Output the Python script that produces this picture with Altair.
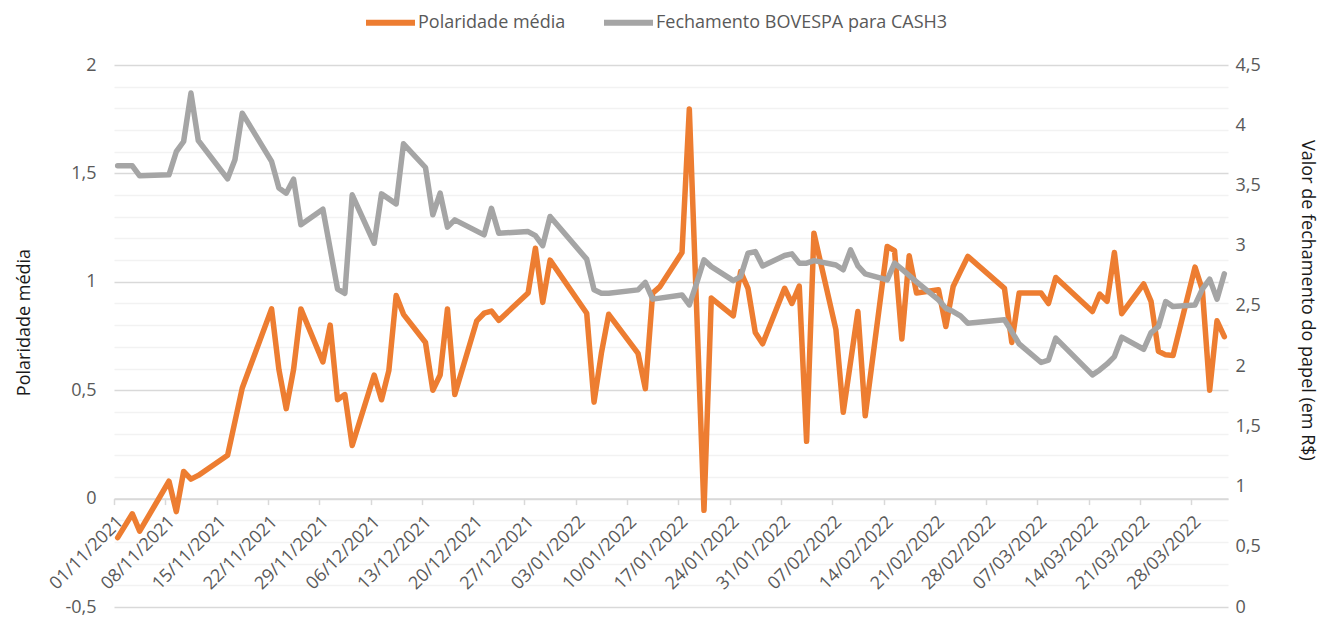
import altair as alt
import pandas as pd

SER_POL = "Polaridade média"
SER_STK = "Fechamento BOVESPA para CASH3"
ORANGE = "#ED7D31"
GRAY = "#A5A5A5"

pol_dates = [
    "2021-11-01", "2021-11-03", "2021-11-04", "2021-11-08", "2021-11-09", "2021-11-10",
    "2021-11-11", "2021-11-12", "2021-11-16", "2021-11-18", "2021-11-22", "2021-11-23",
    "2021-11-24", "2021-11-25", "2021-11-26", "2021-11-29", "2021-11-30", "2021-12-01",
    "2021-12-02", "2021-12-03", "2021-12-06", "2021-12-07", "2021-12-08", "2021-12-09",
    "2021-12-10", "2021-12-13", "2021-12-14", "2021-12-15", "2021-12-16", "2021-12-17",
    "2021-12-20", "2021-12-21", "2021-12-22", "2021-12-23", "2021-12-27", "2021-12-28",
    "2021-12-29", "2021-12-30", "2022-01-04", "2022-01-05", "2022-01-06", "2022-01-07",
    "2022-01-11", "2022-01-12", "2022-01-13", "2022-01-14", "2022-01-17", "2022-01-18",
    "2022-01-20", "2022-01-21", "2022-01-24", "2022-01-25", "2022-01-26", "2022-01-27",
    "2022-01-28", "2022-01-31", "2022-02-01", "2022-02-02", "2022-02-03", "2022-02-04",
    "2022-02-07", "2022-02-08", "2022-02-10", "2022-02-11", "2022-02-14", "2022-02-15",
    "2022-02-16", "2022-02-17", "2022-02-18", "2022-02-21", "2022-02-22", "2022-02-23",
    "2022-02-24", "2022-02-25", "2022-03-02", "2022-03-03", "2022-03-04", "2022-03-07",
    "2022-03-08", "2022-03-09", "2022-03-14", "2022-03-15", "2022-03-16", "2022-03-17",
    "2022-03-18", "2022-03-21", "2022-03-22", "2022-03-23", "2022-03-24", "2022-03-25",
    "2022-03-28", "2022-03-29", "2022-03-30", "2022-03-31", "2022-04-01",
]
pol_values = [
    -0.18, -0.07, -0.15, 0.08, -0.06, 0.125,
    0.09, 0.107, 0.20, 0.51, 0.875, 0.595,
    0.415, 0.595, 0.875, 0.63, 0.80, 0.456,
    0.48, 0.245, 0.57, 0.456, 0.59, 0.937,
    0.85, 0.72, 0.50, 0.57, 0.875, 0.48,
    0.82, 0.855, 0.865, 0.822, 0.948, 1.155,
    0.905, 1.10, 0.855, 0.445, 0.67, 0.85,
    0.67, 0.507, 0.948, 0.978, 1.135, 1.797,
    -0.054, 0.925, 0.843, 1.047, 0.97, 0.766,
    0.714, 0.97, 0.90, 0.98, 0.264, 1.224,
    0.78, 0.398, 0.863, 0.382, 1.163, 1.144,
    0.736, 1.12, 0.948, 0.963, 0.794, 0.978,
    1.048, 1.117, 0.97, 0.72, 0.948, 0.948,
    0.90, 1.02, 0.863, 0.943, 0.91, 1.135,
    0.853, 0.99, 0.91, 0.68, 0.663, 0.66,
    1.068, 0.963, 0.50, 0.82, 0.747,
]

stock_dates = [
    "2021-11-01", "2021-11-03", "2021-11-04", "2021-11-08", "2021-11-09", "2021-11-10",
    "2021-11-11", "2021-11-12", "2021-11-16", "2021-11-17", "2021-11-18", "2021-11-22",
    "2021-11-23", "2021-11-24", "2021-11-25", "2021-11-26", "2021-11-29", "2021-12-01",
    "2021-12-02", "2021-12-03", "2021-12-06", "2021-12-07", "2021-12-09", "2021-12-10",
    "2021-12-13", "2021-12-14", "2021-12-15", "2021-12-16", "2021-12-17", "2021-12-21",
    "2021-12-22", "2021-12-23", "2021-12-27", "2021-12-28", "2021-12-29", "2021-12-30",
    "2022-01-04", "2022-01-05", "2022-01-06", "2022-01-07", "2022-01-11", "2022-01-12",
    "2022-01-13", "2022-01-17", "2022-01-18", "2022-01-19", "2022-01-20", "2022-01-21",
    "2022-01-24", "2022-01-25", "2022-01-26", "2022-01-27", "2022-01-28", "2022-01-31",
    "2022-02-01", "2022-02-02", "2022-02-03", "2022-02-04", "2022-02-07", "2022-02-08",
    "2022-02-09", "2022-02-10", "2022-02-11", "2022-02-14", "2022-02-15", "2022-02-16",
    "2022-02-17", "2022-02-18", "2022-02-21", "2022-02-22", "2022-02-23", "2022-02-24",
    "2022-02-25", "2022-03-02", "2022-03-03", "2022-03-04", "2022-03-07", "2022-03-08",
    "2022-03-09", "2022-03-14", "2022-03-15", "2022-03-16", "2022-03-17", "2022-03-18",
    "2022-03-21", "2022-03-22", "2022-03-23", "2022-03-24", "2022-03-25", "2022-03-28",
    "2022-03-29", "2022-03-30", "2022-03-31", "2022-04-01",
]
stock_values = [
    3.663, 3.663, 3.58, 3.588, 3.78, 3.865,
    4.267, 3.873, 3.555, 3.713, 4.10, 3.70,
    3.478, 3.436, 3.552, 3.173, 3.303, 2.64,
    2.605, 3.422, 3.02, 3.43, 3.347, 3.846,
    3.649, 3.256, 3.436, 3.154, 3.214, 3.09,
    3.31, 3.103, 3.117, 3.084, 3.0, 3.242,
    2.888, 2.633, 2.605, 2.605, 2.633, 2.694,
    2.556, 2.591, 2.508, 2.689, 2.882, 2.826,
    2.71, 2.743, 2.937, 2.951, 2.832, 2.918,
    2.932, 2.855, 2.855, 2.876, 2.84, 2.80,
    2.965, 2.832, 2.766, 2.716, 2.855, 2.805,
    2.752, 2.70, 2.55, 2.48, 2.453, 2.417,
    2.356, 2.384, 2.287, 2.184, 2.03, 2.05,
    2.232, 1.927, 1.968, 2.018, 2.079, 2.24,
    2.14, 2.278, 2.328, 2.536, 2.494, 2.508,
    2.639, 2.722, 2.556, 2.766,
]

x_tick_labels = [
    "01/11/2021", "08/11/2021", "15/11/2021", "22/11/2021", "29/11/2021", "06/12/2021",
    "13/12/2021", "20/12/2021", "27/12/2021", "03/01/2022", "10/01/2022", "17/01/2022",
    "24/01/2022", "31/01/2022", "07/02/2022", "14/02/2022", "21/02/2022", "28/02/2022",
    "07/03/2022", "14/03/2022", "21/03/2022", "28/03/2022",
]
x_start = "01/11/2021"
x_end = "02/04/2022"
left_ticks = [-0.5, -0.4, -0.3, -0.2, -0.1, 0.0, 0.1, 0.2, 0.3, 0.4, 0.5, 0.6, 0.7,
              0.8, 0.9, 1.0, 1.1, 1.2, 1.3, 1.4, 1.5, 1.6, 1.7, 1.8, 1.9, 2.0]
right_ticks = [0, 0.5, 1, 1.5, 2, 2.5, 3, 3.5, 4, 4.5]


def to_dt(s):
    d, m, y = s.split("/")
    return alt.DateTime(year=int(y), month=int(m), date=int(d))


# Excel date axis: each day's point sits in the middle of its day slot
pol_df = pd.DataFrame({
    "data": pd.to_datetime(pol_dates) + pd.Timedelta(hours=12),
    "valor": pol_values,
    "serie": SER_POL,
})
stk_df = pd.DataFrame({
    "data": pd.to_datetime(stock_dates) + pd.Timedelta(hours=12),
    "valor": stock_values,
    "serie": SER_STK,
})

W, H = 1114, 542
FONT = "Open Sans"
LABEL_COLOR = "#595959"
LINE_W = 5.5

x_enc = alt.X(
    "data:T",
    scale=alt.Scale(domain=[to_dt(x_start), to_dt(x_end)]),
    axis=alt.Axis(
        values=[to_dt(s) for s in x_tick_labels],
        format="%d/%m/%Y",
        labelAngle=-45,
        labelFontSize=18,
        labelColor=LABEL_COLOR,
        labelPadding=8,
        labelFlush=False,
        labelOverlap=False,
        grid=False,
        domainColor="#D9D9D9",
        domainWidth=1.5,
        tickColor="#D9D9D9",
        tickWidth=1.5,
        tickSize=6,
        offset=-H * 0.5 / 2.5,
        title=None,
    ),
)

color_enc = alt.Color(
    "serie:N",
    scale=alt.Scale(domain=[SER_POL, SER_STK], range=[ORANGE, GRAY]),
    legend=alt.Legend(
        orient="none",
        direction="horizontal",
        legendX=249,
        legendY=-70,
        title=None,
        symbolType="stroke",
        symbolStrokeWidth=6,
        symbolSize=2401,
        labelFontSize=18,
        labelColor=LABEL_COLOR,
        labelLimit=500,
        labelOffset=0,
        columnPadding=26,
    ),
)

major_test = "abs(datum.value*2 - round(datum.value*2)) < 0.001"

pol_chart = alt.Chart(pol_df).mark_line(
    strokeWidth=LINE_W, strokeJoin="round", strokeCap="round"
).encode(
    x=x_enc,
    y=alt.Y(
        "valor:Q",
        scale=alt.Scale(domain=[-0.5, 2], nice=False, zero=False),
        axis=alt.Axis(
            values=left_ticks,
            labelExpr=f"{major_test} ? (datum.value < 0 ? '-' : '') + replace(format(abs(datum.value), '.1~f'), '.', ',') : ''",
            labelFontSize=18,
            labelColor=LABEL_COLOR,
            labelPadding=18,
            ticks=False,
            tickSize=0,
            domain=False,
            grid=True,
            gridColor={"condition": {"test": major_test, "value": "#D9D9D9"}, "value": "#F2F2F2"},
            gridWidth=1.5,
            title="Polaridade média",
            titleFontSize=18,
            titleFontWeight="normal",
            titleColor="#1a1a1a",
            titleX=-90,
            titleY=257,
            titleAngle=270,
            titleAlign="center",
            titleBaseline="middle",
        ),
    ),
    color=color_enc,
)

stk_chart = alt.Chart(stk_df).mark_line(
    strokeWidth=LINE_W, strokeJoin="round", strokeCap="round"
).encode(
    x=x_enc,
    y=alt.Y(
        "valor:Q",
        scale=alt.Scale(domain=[0, 4.5], nice=False, zero=False),
        axis=alt.Axis(
            orient="right",
            values=right_ticks,
            labelExpr="replace(format(datum.value, '.1~f'), '.', ',')",
            labelFontSize=18,
            labelColor=LABEL_COLOR,
            labelPadding=7,
            ticks=False,
            tickSize=0,
            domain=False,
            grid=False,
            title="Valor de fechamento do papel (em R$)",
            titleFontSize=18,
            titleFontWeight="normal",
            titleColor="#1a1a1a",
            titleX=78,
            titleY=235,
            titleAngle=90,
            titleAlign="center",
            titleBaseline="middle",
        ),
    ),
    color=color_enc,
)

chart = alt.layer(pol_chart, stk_chart).resolve_scale(
    y="independent"
).properties(
    width=W,
    height=H,
    autosize=alt.AutoSizeParams(type="none"),
    padding={"left": 106, "top": 57, "right": 94, "bottom": 10},
).configure(
    font=FONT,
).configure_view(
    strokeOpacity=0,
)

chart.save("out.html", embed_options={"renderer": "svg", "actions": False})
